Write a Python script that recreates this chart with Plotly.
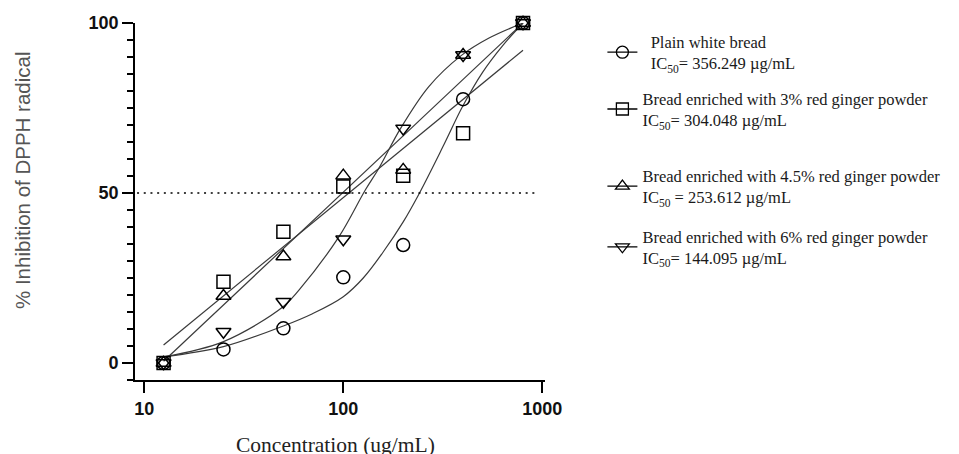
import plotly.graph_objects as go

# ---- data ----
conc = [12.5, 25, 50, 100, 200, 400, 800]
plain = [0, 4.0, 10.2, 25.2, 34.7, 77.6, 100]
red3 = [0, 23.9, 38.6, 51.9, 55.1, 67.6, 100]
red45 = [0, 19.7, 31.3, 55.1, 56.8, 90.6, 100]
red6 = [0, 9.2, 18.0, 36.4, 69.0, 90.6, 100]

# fitted curves
plain_fit_x = [12.5, 25, 50, 70, 100, 126, 158, 200, 239, 316, 398, 501, 631, 800]
plain_fit_y = [1.8, 4.8, 10.9, 14.5, 19.5, 25.0, 32.5, 41.5, 49.5, 63.5, 75.5, 85.5, 93.3, 100]
red3_fit_x = [12.5, 800]
red3_fit_y = [5.3, 92]
red45_fit_x = [12.5, 800]
red45_fit_y = [0.5, 100]
red6_fit_x = [12.5, 25, 50, 60, 95, 129, 151, 194, 269, 391, 537, 800]
red6_fit_y = [1.8, 6.3, 16.6, 21.5, 37.1, 50.9, 57.3, 69, 81.3, 90.4, 95.5, 100]

names = [
    "\u00a0\u00a0Plain white bread<br>\u00a0\u00a0IC<sub>50</sub>= 356.249 \u00b5g/mL",
    "Bread enriched with 3% red ginger powder<br>IC<sub>50</sub>= 304.048 \u00b5g/mL",
    "Bread enriched with 4.5% red ginger powder<br>IC<sub>50</sub> = 253.612 \u00b5g/mL",
    "Bread enriched with 6% red ginger powder<br>IC<sub>50</sub>= 144.095 \u00b5g/mL",
]
symbols = ["circle-open", "square-open", "triangle-up-open", "triangle-down-open"]
series = [plain, red3, red45, red6]
fits = [(plain_fit_x, plain_fit_y), (red3_fit_x, red3_fit_y),
        (red45_fit_x, red45_fit_y), (red6_fit_x, red6_fit_y)]
legend_ids = ["legend", "legend2", "legend3", "legend4"]
legend_y = [0.918, 0.759, 0.543, 0.373]

LINE = "#3a3a3a"
fig = go.Figure()

for (fx, fy) in fits:
    fig.add_trace(go.Scatter(x=fx, y=fy, mode="lines", line=dict(color=LINE, width=1.2, shape="spline"),
                             showlegend=False, hoverinfo="skip"))

for s, sym in zip(series, symbols):
    fig.add_trace(go.Scatter(x=conc, y=s, mode="markers", cliponaxis=False,
                             marker=dict(symbol=sym, size=13, color="black", line=dict(width=1.5, color="black")),
                             showlegend=False))

# legend entries
for name, sym, lid in zip(names, symbols, legend_ids):
    fig.add_trace(go.Scatter(x=[None], y=[None], mode="lines+markers", name=name, legend=lid,
                             line=dict(color="black", width=1.3),
                             marker=dict(symbol=sym, size=12, color="black", line=dict(width=1.3, color="black"))))

legend_common = dict(xanchor="left", yanchor="middle", x=1.14, bgcolor="rgba(0,0,0,0)",
                     font=dict(family="Liberation Serif, Times New Roman, serif", size=16.5, color="#1a1a1a"),
                     itemwidth=30, tracegroupgap=0)
layout_legends = {}
for lid, ly in zip(legend_ids, legend_y):
    layout_legends[lid] = dict(legend_common, y=ly)

fig.add_shape(type="line", xref="paper", yref="y", x0=0.005, x1=0.983, y0=50, y1=50,
              line=dict(color="black", width=1.5, dash="2px,4.7px"))

tickfont = dict(family="Liberation Sans, Arial, sans-serif", size=18, color="#111", weight="bold")

# the page adds an 8px body margin, so the figure is 8px smaller and margins shifted
fig.update_layout(
    width=951, height=446,
    margin=dict(l=127, r=414, t=15, b=74, autoexpand=False),
    paper_bgcolor="white", plot_bgcolor="white",
    showlegend=True,
    xaxis=dict(type="log", range=[0.9533, 3.0136], tickvals=[10, 100, 1000], ticktext=["10", "100", "1000"],
               showgrid=False, zeroline=False, showline=True, linecolor="black", linewidth=1.8,
               ticks="outside", ticklen=11, tickwidth=1.8, tickcolor="black", tickfont=tickfont),
    yaxis=dict(range=[-5, 100], tickvals=[0, 50, 100], showgrid=False, zeroline=False, showline=True,
               linecolor="black", linewidth=1.8, ticks="outside", ticklen=11, tickwidth=1.8, tickcolor="black",
               tickfont=tickfont,
               minor=dict(dtick=5, tick0=0, ticks="outside", ticklen=6, tickwidth=1.5, tickcolor="black", showgrid=False)),
    **layout_legends,
)

fig.add_annotation(text="% Inhibition of DPPH radical", xref="paper", yref="paper",
                   x=(22 - 135) / 410, y=(380 - 180) / 357, xanchor="center", yanchor="middle",
                   textangle=-90, showarrow=False,
                   font=dict(family="Liberation Sans, Arial, sans-serif", size=20.5, color="#555"))
fig.add_annotation(text="Concentration (ug/mL)", xref="paper", yref="paper",
                   x=(335 - 135) / 410, y=(380 - 445) / 357, xanchor="center", yanchor="middle",
                   showarrow=False,
                   font=dict(family="Liberation Serif, Times New Roman, serif", size=21.5, color="#222"))

fig.write_html("out.html")
